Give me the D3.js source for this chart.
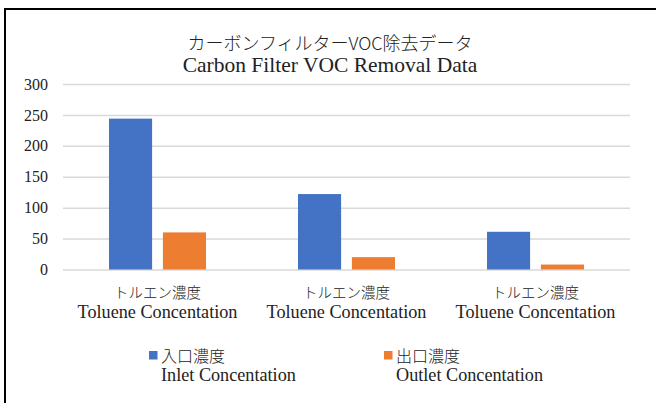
<!DOCTYPE html>
<html>
<head>
<meta charset="utf-8">
<script src="https://cdn.jsdelivr.net/npm/d3@7"></script>
<style>
  body { margin: 0; background: #fff; }
  svg text { font-family: "Liberation Serif", "Noto Sans CJK JP", serif; fill: #222; }
  svg text.jp { font-family: "Noto Sans CJK JP", sans-serif; font-weight: 300; }
</style>
</head>
<body>
<div id="chart"></div>
<script>
const categoriesJa = ["トルエン濃度", "トルエン濃度", "トルエン濃度"];
const categoriesEn = ["Toluene Concentation", "Toluene Concentation", "Toluene Concentation"];
const seriesJa = ["入口濃度", "出口濃度"];
const seriesEn = ["Inlet Concentation", "Outlet Concentation"];
const inlet = [244, 122, 61];
const outlet = [60, 20, 8];
const yTicks = [0, 50, 100, 150, 200, 250, 300];

let width = 656,
    height = 403,
    margin = ({ top: 84, right: 26, bottom: 133.5, left: 63 });

const colors = ["#4472C4", "#ED7D31"];

const svg = d3.select("#chart")
  .append("svg")
  .attr("width", width)
  .attr("height", height);

// outer frame (only top/left visible in the crop)
svg.append("rect")
  .attr("x", 5).attr("y", 9)
  .attr("width", width + 20).attr("height", height + 20)
  .attr("fill", "none")
  .attr("stroke", "#000")
  .attr("stroke-width", 2);

let x0 = d3.scaleBand()
  .domain(d3.range(categoriesJa.length))
  .range([margin.left, width - margin.right]);

let x1 = d3.scaleBand()
  .domain([0, 1])
  .range([(x0.bandwidth() - 97) / 2, (x0.bandwidth() + 97) / 2])
  .paddingInner(0.2);

let y = d3.scaleLinear()
  .domain([0, 300])
  .range([height - margin.bottom, margin.top]);

// gridlines + y labels
svg.append("g")
  .attr("transform", `translate(${margin.left},0)`)
  .attr("class", "y-axis")
  .call(d3.axisLeft(y).tickValues(yTicks).tickSize(-(width - margin.left - margin.right)).tickPadding(15))
  .call(g => g.select(".domain").remove())
  .call(g => g.selectAll("line").attr("stroke", "#d9d9d9").attr("stroke-width", 1.5))
  .call(g => g.selectAll("text").style("font-size", "16px").style("font-family", "'Liberation Serif', serif").attr("fill", "#222"));

// bars
const rows = d3.range(categoriesJa.length).map(i => [inlet[i], outlet[i]]);

svg.append("g")
  .selectAll("g")
  .data(rows)
  .join("g")
  .attr("transform", (d, i) => `translate(${x0(i)},0)`)
  .selectAll("rect")
  .data(d => d)
  .join("rect")
  .attr("x", (d, j) => x1(j))
  .attr("y", d => y(d))
  .attr("width", x1.bandwidth())
  .attr("height", d => y(0) - y(d))
  .attr("fill", (d, j) => colors[j]);

// category labels
const xg = svg.append("g")
  .attr("transform", `translate(0,${y(0)})`)
  .call(d3.axisBottom(x0).tickSize(0).tickFormat(""))
  .call(g => g.select(".domain").remove());

xg.selectAll(".tick").each(function(d) {
  const t = d3.select(this);
  t.append("text").attr("class", "jp")
    .attr("y", 28).attr("text-anchor", "middle").style("font-size", "14.5px")
    .text(categoriesJa[d]);
  t.append("text")
    .attr("y", 48).attr("text-anchor", "middle").style("font-size", "18.2px")
    .text(categoriesEn[d]);
});

// title
svg.append("text")
  .attr("x", 330).attr("y", 49.5)
  .attr("text-anchor", "middle")
  .style("font-size", "18px")
  .attr("class", "jp")
  .text("カーボンフィルターVOC除去データ");

svg.append("text")
  .attr("x", 330).attr("y", 72)
  .attr("text-anchor", "middle")
  .style("font-size", "21.5px")
  .text("Carbon Filter VOC Removal Data");

// legend
const legendX = [149, 384];
const lg = svg.append("g")
  .selectAll("g")
  .data(seriesJa)
  .join("g")
  .attr("transform", (d, i) => `translate(${legendX[i]},0)`);

lg.append("rect")
  .attr("x", 0).attr("y", 351)
  .attr("width", 8.5).attr("height", 8.5)
  .attr("fill", (d, i) => colors[i]);

lg.append("text")
  .attr("class", "jp")
  .attr("x", 12).attr("y", 362)
  .style("font-size", "16px")
  .text(d => d);

lg.append("text")
  .attr("x", 12).attr("y", 381)
  .style("font-size", "18.2px")
  .text((d, i) => seriesEn[i]);
</script>
</body>
</html>
